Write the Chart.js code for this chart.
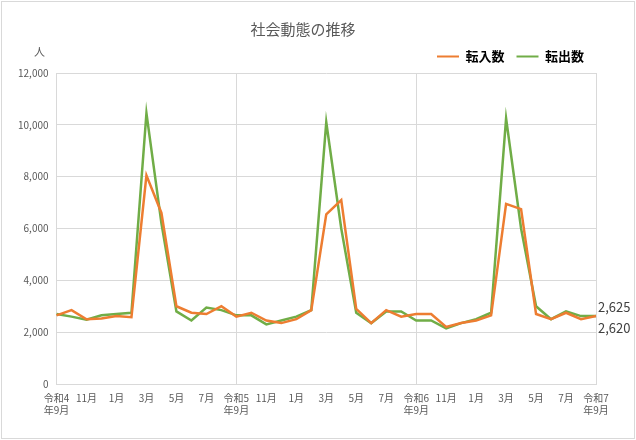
<!DOCTYPE html>
<html><head><meta charset="utf-8">
<script src="https://cdn.jsdelivr.net/npm/chart.js@4"></script>
<style>
body{margin:0;background:#fff}
#wrap{position:absolute;left:1px;top:1px;width:632px;height:436px;border:1px solid #d9d9d9;}
</style></head><body>
<div id="wrap"><canvas id="c"></canvas></div>
<script>
const months = ['9月','10月','11月','12月','1月','2月','3月','4月','5月','6月','7月','8月'];
const years = ['令和4','令和5','令和6','令和7'];
const moveIn = [2650,2850,2500,2530,2620,2580,8050,6600,3000,2750,2700,3000,
  2600,2750,2450,2350,2500,2850,6550,7100,2900,2350,2850,2600,
  2700,2700,2200,2350,2450,2650,6950,6750,2700,2500,2750,2500,2620];
const moveOut = [2700,2600,2480,2650,2700,2750,10450,6200,2800,2450,2950,2850,
  2650,2650,2300,2450,2600,2850,10100,6000,2750,2350,2800,2800,
  2450,2450,2150,2350,2500,2750,10250,6000,3000,2500,2800,2620,2625];
const labels = moveIn.map((_, i) => i % 12 === 0 ? [years[i/12], '年9月'] : months[i % 12]);
const font = "'Noto Sans CJK JP', sans-serif";
Chart.defaults.font.family = font;
Chart.defaults.color = '#595959';

const endLabels = {
  id: 'endLabels',
  afterDatasetsDraw(chart) {
    const ctx = chart.ctx;
    ctx.save();
    ctx.font = '13px ' + font;
    ctx.fillStyle = '#404040';
    ctx.textBaseline = 'middle';
    const last = moveIn.length - 1;
    const p1 = chart.getDatasetMeta(1).data[last];
    const p0 = chart.getDatasetMeta(0).data[last];
    ctx.fillText(moveOut[last].toLocaleString(), p1.x + 2, p1.y - 9);
    ctx.fillText(moveIn[last].toLocaleString(), p0.x + 2, p0.y + 12);
    ctx.font = '11px ' + font;
    ctx.fillStyle = '#595959';
    ctx.fillText('人', 32, 50);
    ctx.restore();
  }
};

new Chart(document.getElementById('c'), {
  type: 'line',
  data: {
    labels: labels,
    datasets: [
      { label: '転入数', data: moveIn, borderColor: '#ed7d31', backgroundColor: '#ed7d31', borderWidth: 2.5, pointRadius: 0, tension: 0 },
      { label: '転出数', data: moveOut, borderColor: '#70ad47', backgroundColor: '#70ad47', borderWidth: 2.5, pointRadius: 0, tension: 0 }
    ]
  },
  options: {
    responsive: true, maintainAspectRatio: false, animation: false,
    layout: { padding: { left: 8, right: 38, top: 4, bottom: 14 } },
    plugins: {
      title: { display: true, text: '社会動態の推移', font: { size: 15, weight: 'normal' }, color: '#595959', padding: { top: 14, bottom: 0 } },
      legend: { align: 'end', labels: { boxWidth: 22, boxHeight: 2, font: { size: 13, weight: 'bold' }, color: '#404040', padding: 12,
        generateLabels(chart) {
          return chart.data.datasets.map((d, i) => ({ text: d.label, fillStyle: d.borderColor, strokeStyle: d.borderColor, lineWidth: 0, datasetIndex: i }));
        } } },
      tooltip: { enabled: false }
    },
    scales: {
      x: {
        offset: false,
        grid: { color: ctx => (ctx.index % 12 === 0 ? '#d9d9d9' : 'rgba(0,0,0,0)'), drawTicks: false },
        border: { color: '#d9d9d9' },
        ticks: { autoSkip: false, maxRotation: 0, font: { size: 10 }, padding: 8,
          callback: function (v, i) { return i % 2 === 0 ? this.getLabelForValue(v) : ''; } }
      },
      y: {
        min: 0, max: 12000,
        grid: { color: '#d9d9d9', drawTicks: false },
        border: { display: false },
        ticks: { stepSize: 2000, font: { size: 10 }, padding: 8, callback: v => v.toLocaleString() }
      }
    }
  },
  plugins: [endLabels]
});
</script></body></html>
